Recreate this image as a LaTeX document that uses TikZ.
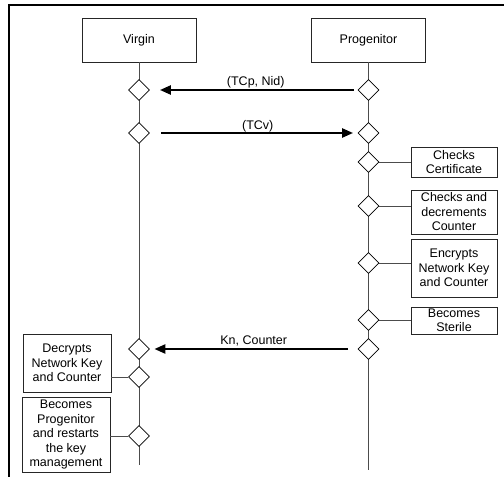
\documentclass[tikz,border=0pt]{standalone}
\usepackage{fontspec}
\setmainfont{Liberation Sans}
\usetikzlibrary{shapes.geometric,arrows.meta}

\begin{document}
\begin{tikzpicture}[x=1pt,y=-1pt,
    actor/.style={draw=black!85,line width=0.8pt,fill=white,minimum width=114pt,minimum height=44pt,inner sep=0pt},
    act/.style={draw=black!85,line width=0.8pt,fill=white,align=center,inner sep=0pt,minimum width=86pt},
    dia/.style={diamond,draw,line width=0.8pt,fill=white,minimum width=21pt,minimum height=21pt,inner sep=0pt},
    life/.style={draw=black!70,line width=0.8pt},
    msg/.style={draw,line width=2.4pt,-{Triangle[length=11pt,width=9pt]}},
    tag/.style={inner sep=0pt,fill=none}]
  \fontsize{12.5}{14.5}\selectfont
  \useasboundingbox (0,0) rectangle (504,477);

  % frame
  \draw[line width=2pt] (9,477) -- (9,5) -- (504,5);

  % actors and lifelines
  \node[actor] (virgin) at (139,40) {Virgin};
  \node[actor] (prog) at (368.5,40) {Progenitor};
  \coordinate (vend) at (139,465);
  \coordinate (pend) at (368.5,470);
  \draw[life] (virgin.south) -- (vend);
  \draw[life] (prog.south) -- (pend);

  % decision points
  \foreach \n/\y in {1/90, 2/133, 8/349, 9/377, 10/436}
  {
      \node[dia] (v\n) at (139,\y) {};
  }
  \foreach \n/\y in {1/90, 2/133, 3/162, 4/206, 5/263, 6/320, 7/349}
  {
      \node[dia] (p\n) at (368.5,\y) {};
  }

  % messages
  \draw[msg,shorten <=3.5pt,shorten >=10pt] (p1) -- node[tag,yshift=8pt,xshift=2pt] {(TCp, Nid)} (v1);
  \draw[msg,shorten <=11.5pt,shorten >=4.5pt] (v2) -- node[tag,yshift=7pt,xshift=4pt] {(TCv)} (p2);
  \draw[msg,shorten <=9.5pt,shorten >=4.5pt] (p7) -- node[tag,yshift=8pt] {Kn, Counter} (v8);

  % actions of the progenitor
  \node[act,minimum height=30pt] (cert) at (454,162) {Checks\\Certificate};
  \node[act,minimum height=44pt] (count) at (454,212) {Checks and\\decrements\\Counter};
  \node[act,minimum height=58pt] (enc) at (454,268) {Encrypts\\Network Key\\and Counter};
  \node[act,minimum height=27pt] (steril) at (454,320.5) {Becomes\\Sterile};
  \draw[life] (p3.east) -- (p3.east -| cert.west);
  \draw[life] (p4.east) -- (p4.east -| count.west);
  \draw[life] (p5.east) -- (p5.east -| enc.west);
  \draw[life] (p6.east) -- (p6.east -| steril.west);

  % actions of the virgin
  \node[act,minimum width=88pt,minimum height=58pt] (dec) at (67,363) {Decrypts\\Network Key\\and Counter};
  \node[act,minimum width=88pt,minimum height=75pt] (become) at (66,434.5) {Becomes\\Progenitor\\and restarts\\the key\\management};
  \draw[life] (v9.west) -- (v9.west -| dec.east);
  \draw[life] (v10.west) -- (v10.west -| become.east);
\end{tikzpicture}
\end{document}
